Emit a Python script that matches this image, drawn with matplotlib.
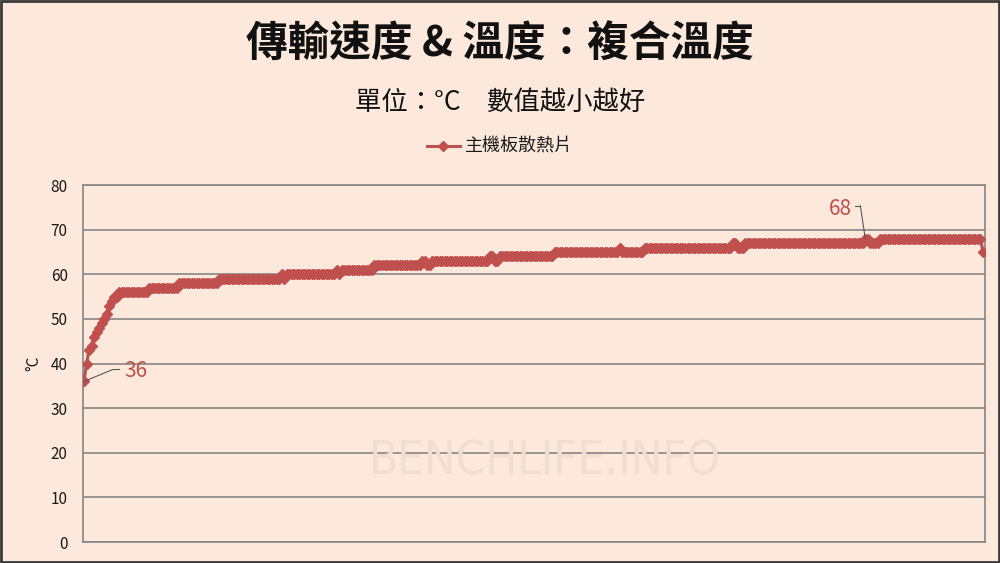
import numpy as np
import matplotlib
matplotlib.use('Agg')
import matplotlib.pyplot as plt
from matplotlib.patches import Rectangle
from matplotlib.lines import Line2D
from matplotlib.transforms import offset_copy

plt.rcParams['font.family'] = ['Noto Sans CJK TC', 'DejaVu Sans']

# readings: first climb point by point, then (value, how many samples)
start_vals = [36, 40, 43, 44, 46, 47, 48, 49, 50, 51, 53, 54, 55, 55]
run_vals = [56, 57, 58, 59, 60, 59, 60, 61, 60, 61, 62, 63, 62, 63, 64, 63, 64,
            65, 66, 65, 66, 67, 66, 67, 68, 67, 68, 65]
run_len = [12, 12, 16, 25, 1, 1, 20, 1, 1, 13, 19, 2, 2, 23, 2, 2, 22,
           26, 1, 9, 35, 2, 3, 48, 2, 4, 41, 1]

series_name = '主機板散熱片'
title = '傳輸速度 & 溫度：複合溫度'
subtitle = '單位：°C　數值越小越好'
yticks = [0, 10, 20, 30, 40, 50, 60, 70, 80]

temps = np.concatenate([start_vals, np.repeat(run_vals, run_len)])
x = np.arange(len(temps))

bg = '#FCE9DB'
red = '#C0504D'
lead_c = '#595959'

fig = plt.figure(figsize=(10, 5.63), dpi=100, facecolor=bg)
ax = fig.add_axes([0.083, 0.0373, 0.902, 0.634])
ax.set_facecolor(bg)

ax.plot(x, temps, color=red, lw=2.2, marker='D', ms=5.2, mec=red, mfc=red,
        label=series_name, zorder=3)

ax.set_ylim(0, 80)
ax.set_xlim(-0.4, len(temps) - 0.2)
ax.set_yticks(yticks)
ax.set_xticks([])
ax.yaxis.grid(True, color='#858585', lw=1.2)
ax.set_axisbelow(True)
for s in ax.spines.values():
    s.set_color('#858585')
    s.set_linewidth(1.2)
ax.tick_params(axis='y', length=0, pad=11, labelsize=11, labelcolor='#1a1a1a')
ax.set_ylabel('°C', fontsize=11, labelpad=6, color='#1a1a1a')

# min / max callouts
i_min = int(np.argmin(temps))
i_max = int(np.argmax(temps[300:])) + 300
lead = dict(arrowstyle='-', color=lead_c, lw=0.8, shrinkA=0, shrinkB=0)

ax.annotate('', xy=(i_min, temps[i_min]), xytext=(20.9, 8.6),
            textcoords='offset points', arrowprops=lead)
ax.annotate(str(temps[i_min]), xy=(i_min, temps[i_min]), xytext=(28.8, 7.2),
            textcoords='offset points', color=red, fontsize=15,
            va='center', ha='left')

ax.annotate('', xy=(i_max, temps[i_max]), xytext=(-3.6, 23.8),
            textcoords='offset points', arrowprops=lead)
ax.annotate(str(temps[i_max]), xy=(i_max, temps[i_max]), xytext=(-9.4, 21.6),
            textcoords='offset points', color=red, fontsize=15,
            va='center', ha='right')

# short horizontal pieces of the leader lines
t1a = offset_copy(ax.transData, fig=fig, x=20.9, y=8.6, units='points')
t1b = offset_copy(ax.transData, fig=fig, x=25.2, y=8.6, units='points')
t2a = offset_copy(ax.transData, fig=fig, x=-3.6, y=23.8, units='points')
t2b = offset_copy(ax.transData, fig=fig, x=-7.2, y=23.8, units='points')
for ta, tb, i in [(t1a, t1b, i_min), (t2a, t2b, i_max)]:
    pa = ta.transform((i, temps[i]))
    pb = tb.transform((i, temps[i]))
    fig.lines.append(Line2D([pa[0], pb[0]], [pa[1], pb[1]], transform=None,
                            color=lead_c, lw=0.8))

# watermark
ax.text(0.512, 0.225, 'BENCHLIFE.INFO', transform=ax.transAxes, ha='center',
        va='center', fontsize=34, color='#F0DED3', zorder=1,
        family='DejaVu Sans', fontstretch='condensed')

fig.text(0.5, 0.92, title, ha='center', va='center', fontsize=30,
         fontweight='bold', color='#111111')
fig.text(0.5, 0.818, subtitle, ha='center', va='center', fontsize=19,
         color='#111111')

fig.legend(loc='center', bbox_to_anchor=(0.5, 0.739), frameon=False,
           fontsize=13, handlelength=1.8, handletextpad=0.3,
           labelcolor='#1a1a1a')

fig.patches.append(Rectangle((0.001, 0.002), 0.998, 0.996, transform=fig.transFigure,
                             fill=False, edgecolor='#3a3a3a', lw=2))

fig.savefig('out.png', dpi=100, facecolor=bg)
